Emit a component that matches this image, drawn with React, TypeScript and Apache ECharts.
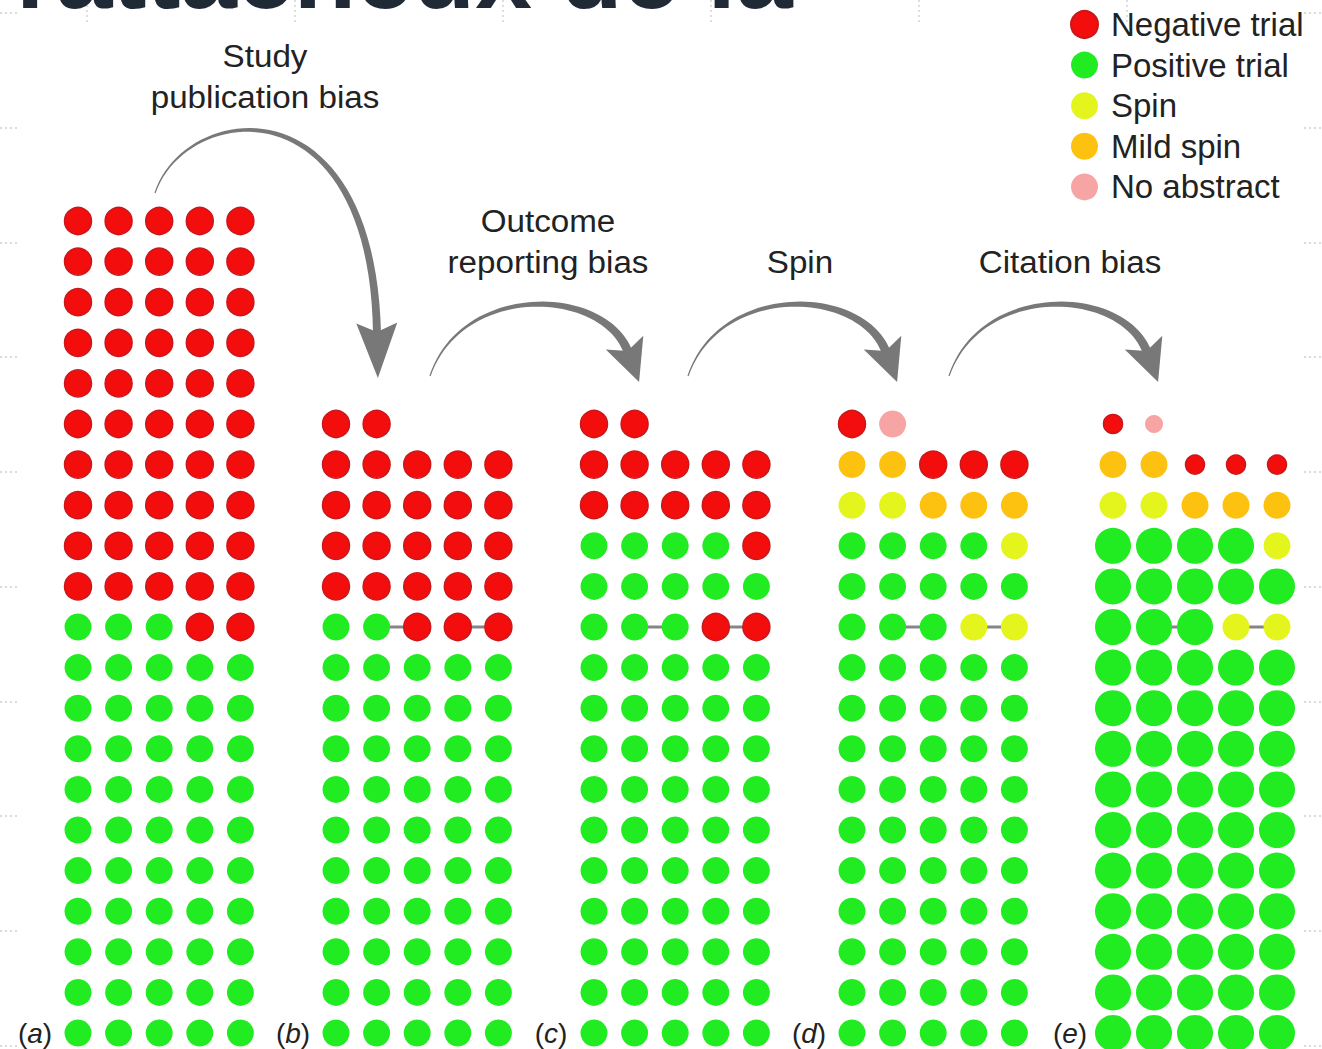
import React, { useEffect, useRef } from "react";
import * as echarts from "echarts";

// ---------- data ----------
const CATEGORIES = ["Negative trial", "Positive trial", "Spin", "Mild spin", "No abstract"];
const CODES = ["N", "P", "S", "M", "X"];
const COLORS = ["#f30d0d", "#21ec21", "#e4f51d", "#fcc20f", "#f6a4a4"];
const BORDERS = ["#c8181c", "#21ec21", "#e4f51d", "#fcc20f", "#f6a4a4"];

// rows top->bottom, 5 columns; N negative, P positive, S spin, M mild spin, X no abstract, . empty
const PANEL_A = [
  "NNNNN", "NNNNN", "NNNNN", "NNNNN", "NNNNN", "NNNNN", "NNNNN", "NNNNN", "NNNNN", "NNNNN",
  "PPPNN",
  "PPPPP", "PPPPP", "PPPPP", "PPPPP", "PPPPP", "PPPPP", "PPPPP", "PPPPP", "PPPPP", "PPPPP",
];
const PANEL_B = [
  ".....", ".....", ".....", ".....", ".....",
  "NN...", "NNNNN", "NNNNN", "NNNNN", "NNNNN",
  "PPNNN",
  "PPPPP", "PPPPP", "PPPPP", "PPPPP", "PPPPP", "PPPPP", "PPPPP", "PPPPP", "PPPPP", "PPPPP",
];
const PANEL_C = [
  ".....", ".....", ".....", ".....", ".....",
  "NN...", "NNNNN", "NNNNN", "PPPPN", "PPPPP",
  "PPPNN",
  "PPPPP", "PPPPP", "PPPPP", "PPPPP", "PPPPP", "PPPPP", "PPPPP", "PPPPP", "PPPPP", "PPPPP",
];
const PANEL_D = [
  ".....", ".....", ".....", ".....", ".....",
  "NX...", "MMNNN", "SSMMM", "PPPPS", "PPPPP",
  "PPPSS",
  "PPPPP", "PPPPP", "PPPPP", "PPPPP", "PPPPP", "PPPPP", "PPPPP", "PPPPP", "PPPPP", "PPPPP",
];
const PANEL_E = [
  ".....", ".....", ".....", ".....", ".....",
  "NX...", "MMNNN", "SSMMM", "PPPPS", "PPPPP",
  "PPPSS",
  "PPPPP", "PPPPP", "PPPPP", "PPPPP", "PPPPP", "PPPPP", "PPPPP", "PPPPP", "PPPPP", "PPPPP",
];
const PANELS = [PANEL_A, PANEL_B, PANEL_C, PANEL_D, PANEL_E];
const PANEL_LETTERS = ["a", "b", "c", "d", "e"];

// linked trials: [fromCol, toCol, row]
const LINKS_A: number[][] = [];
const LINKS_BCDE = [[1, 2, 10], [3, 4, 10]];
const PANEL_LINKS = [LINKS_A, LINKS_BCDE, LINKS_BCDE, LINKS_BCDE, LINKS_BCDE];

// marker diameters by category (N, P, S, M, X)
const SIZES_NORMAL = [27, 27, 27, 27, 27];
const SIZES_CITED = [19, 36, 27, 27, 18];
const PANEL_SIZES = [SIZES_NORMAL, SIZES_NORMAL, SIZES_NORMAL, SIZES_NORMAL, SIZES_CITED];

const STEP_LABELS = [
  { lines: ["Study", "publication bias"], x: 265, y: 56 },
  { lines: ["Outcome", "reporting bias"], x: 548, y: 221 },
  { lines: ["Spin"], x: 800, y: 262 },
  { lines: ["Citation bias"], x: 1070, y: 262 },
];

// ---------- layout ----------
const PANEL_X0 = [78, 336, 594, 852, 1113];
const COL_STEP = [40.6, 40.6, 40.6, 40.6, 41];
const ROW_Y0 = 221;
const ROW_STEP = 40.6;
const N_ROWS = 21;

type P = [number, number];

function bez(p: P[], t: number): P {
  const u = 1 - t;
  const a = u * u * u, b = 3 * u * u * t, c = 3 * u * t * t, d = t * t * t;
  return [a * p[0][0] + b * p[1][0] + c * p[2][0] + d * p[3][0], a * p[0][1] + b * p[1][1] + c * p[2][1] + d * p[3][1]];
}
function bezD(p: P[], t: number): P {
  const u = 1 - t;
  const a = 3 * u * u, b = 6 * u * t, c = 3 * t * t;
  return [
    a * (p[1][0] - p[0][0]) + b * (p[2][0] - p[1][0]) + c * (p[3][0] - p[2][0]),
    a * (p[1][1] - p[0][1]) + b * (p[2][1] - p[1][1]) + c * (p[3][1] - p[2][1]),
  ];
}

function arrow(ctrl: P[], w0: number, w1: number, headLen: number, headHalf: number, notch: number, color: string) {
  const left: P[] = [];
  const right: P[] = [];
  const N = 48;
  for (let i = 0; i <= N; i++) {
    const t = i / N;
    const pt = bez(ctrl, t);
    const d = bezD(ctrl, t);
    const len = Math.hypot(d[0], d[1]) || 1;
    const nx = -d[1] / len, ny = d[0] / len;
    const w = (w0 + (w1 - w0) * Math.pow(t, 1.1)) / 2;
    left.push([pt[0] + nx * w, pt[1] + ny * w]);
    right.push([pt[0] - nx * w, pt[1] - ny * w]);
  }
  const shaft = left.concat(right.reverse());
  const E = ctrl[3];
  const d = bezD(ctrl, 1);
  const len = Math.hypot(d[0], d[1]);
  const dx = d[0] / len, dy = d[1] / len;
  const nx = -dy, ny = dx;
  const M: P = [E[0] - dx * notch, E[1] - dy * notch];
  const tip: P = [M[0] + dx * headLen, M[1] + dy * headLen];
  const b1: P = [M[0] + nx * headHalf, M[1] + ny * headHalf];
  const b2: P = [M[0] - nx * headHalf, M[1] - ny * headHalf];
  const back: P = [E[0] - dx * 1, E[1] - dy * 1];
  return [
    { type: "polygon", shape: { points: shaft }, style: { fill: color }, z: 5, silent: true },
    { type: "polygon", shape: { points: [tip, b1, back, b2] }, style: { fill: color }, z: 5, silent: true },
  ];
}

const ARROW1: P[] = [[155, 193], [185, 103], [372, 78], [377, 333]];
const ARROW_SMALL: P[] = [[430, 376], [462, 282], [604, 287], [628, 352]];
const ARROW_SHIFTS = [0, 258, 519];

export default function App() {
  const ref = useRef<HTMLDivElement>(null);

  useEffect(() => {
    if (!ref.current) return;
    const chart = echarts.init(ref.current, undefined, { renderer: "svg" });

    const grids: any[] = [];
    const xAxes: any[] = [];
    const yAxes: any[] = [];
    const series: any[] = [];

    PANELS.forEach((rows, p) => {
      const step = COL_STEP[p];
      grids.push({
        left: PANEL_X0[p],
        top: ROW_Y0,
        width: step * 4,
        height: ROW_STEP * (N_ROWS - 1),
        containLabel: false,
      });
      xAxes.push({ gridIndex: p, type: "value", min: 0, max: 4, show: false });
      yAxes.push({ gridIndex: p, type: "value", min: 0, max: N_ROWS - 1, inverse: true, show: false });
      PANEL_LINKS[p].forEach(([c1, c2, r]) => {
        series.push({
          type: "line",
          xAxisIndex: p,
          yAxisIndex: p,
          data: [[c1, r], [c2, r]],
          symbol: "none",
          lineStyle: { color: "#858585", width: 3 },
          z: 1,
          silent: true,
        });
      });
      CODES.forEach((code, k) => {
        const data: number[][] = [];
        rows.forEach((row, r) => {
          row.split("").forEach((ch, c) => {
            if (ch === code) data.push([c, r]);
          });
        });
        if (!data.length) return;
        series.push({
          type: "scatter",
          name: CATEGORIES[k],
          xAxisIndex: p,
          yAxisIndex: p,
          data,
          symbol: "circle",
          symbolSize: PANEL_SIZES[p][k],
          clip: false,
          itemStyle: { color: COLORS[k], borderColor: BORDERS[k], borderWidth: k === 0 ? 1.5 : 0, opacity: 1 },
          z: 3,
          silent: true,
        });
      });
    });

    const graphics: any[] = [];
    // faint dotted page marks
    [13, 128, 243, 357, 472, 587, 702, 816, 931, 1046].forEach((y) => {
      graphics.push({ type: "line", shape: { x1: 0, y1: y, x2: 18, y2: y }, style: { stroke: "#cfcfcf", lineWidth: 1.5, lineDash: [2, 3] }, silent: true });
      graphics.push({ type: "line", shape: { x1: 1304, y1: y, x2: 1322, y2: y }, style: { stroke: "#cfcfcf", lineWidth: 1.5, lineDash: [2, 3] }, silent: true });
    });
    [87, 295, 503, 711, 919, 1127].forEach((x) => {
      graphics.push({ type: "line", shape: { x1: x, y1: 0, x2: x, y2: 22 }, style: { stroke: "#d4d4d4", lineWidth: 1.5, lineDash: [2, 3] }, silent: true });
    });
    // cut-off heading at the very top
    graphics.push({
      type: "text",
      x: 16,
      y: -27,
      style: { text: "rattacheux de la", fontSize: 102, fontWeight: "bold", fontFamily: "Liberation Sans", fill: "#1f2a36", align: "left", verticalAlign: "middle" },
      silent: true,
    });
    // step labels
    STEP_LABELS.forEach((lab) => {
      lab.lines.forEach((line, i) => {
        graphics.push({
          type: "text",
          x: lab.x,
          y: lab.y + i * 41,
          scaleX: 1.07,
          style: { text: line, fontSize: 31, fontFamily: "Liberation Sans", fill: "#222222", align: "center", verticalAlign: "middle" },
          silent: true,
        });
      });
    });
    // arrows
    graphics.push(...arrow(ARROW1, 1.2, 8, 55, 20.5, 10, "#787878"));
    ARROW_SHIFTS.forEach((s) => {
      const ctrl = ARROW_SMALL.map(([x, y]) => [x + s, y] as P);
      graphics.push(...arrow(ctrl, 1.2, 9, 42, 20, 10, "#787878"));
    });
    // panel letters
    PANEL_LETTERS.forEach((l, p) => {
      graphics.push({
        type: "text",
        x: PANEL_X0[p] - 43,
        y: ROW_Y0 + ROW_STEP * (N_ROWS - 1),
        style: {
          text: "{n|(}{i|" + l + "}{n|)}",
          fontSize: 28,
          fontFamily: "Liberation Sans",
          fill: "#222222",
          align: "center",
          verticalAlign: "middle",
          rich: {
            n: { fontSize: 28, fontFamily: "Liberation Sans", fill: "#222222" },
            i: { fontSize: 28, fontFamily: "Liberation Sans", fontStyle: "italic", fill: "#222222" },
          },
        },
        silent: true,
      });
    });

    chart.setOption({
      animation: false,
      backgroundColor: "#ffffff",
      grid: grids,
      xAxis: xAxes,
      yAxis: yAxes,
      legend: {
        data: CATEGORIES,
        orient: "vertical",
        left: 1070,
        top: 8,
        padding: 0,
        icon: "circle",
        itemWidth: 27,
        itemHeight: 27,
        itemGap: 7.6,
        selectedMode: false,
        textStyle: { fontSize: 33, color: "#222222", fontFamily: "Liberation Sans", padding: [0, 0, 0, 8] },
      },
      series,
      graphic: graphics,
    });

    return () => chart.dispose();
  }, []);

  return (
    <div
      ref={ref}
      style={{ position: "fixed", left: 0, top: 0, width: 1322, height: 1049, background: "#fff" }}
    />
  );
}
